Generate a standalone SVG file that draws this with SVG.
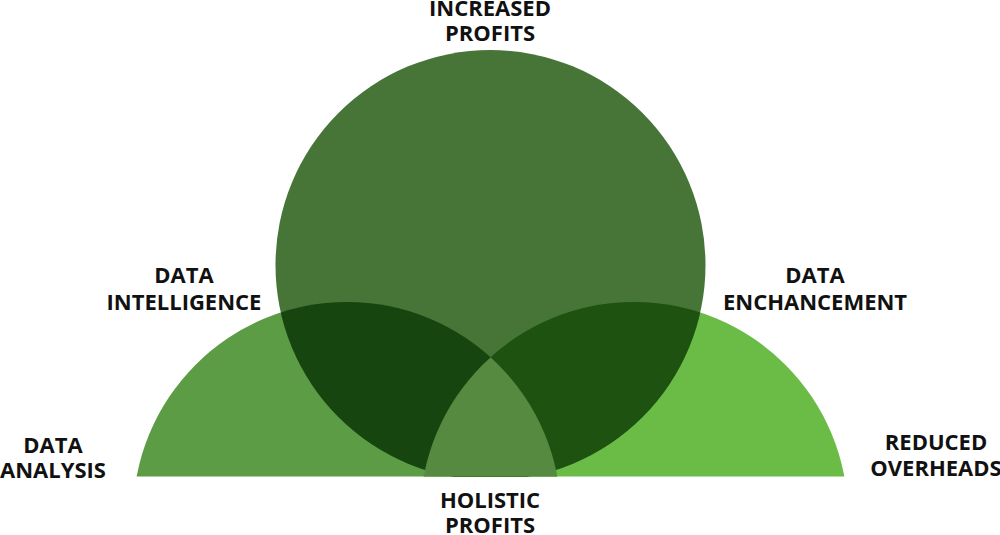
<svg xmlns="http://www.w3.org/2000/svg" width="1000" height="535" viewBox="0 0 1000 535">
<style>
.lbl{font-family:"Open Sans","Noto Sans","Liberation Sans",sans-serif;font-weight:700;font-size:22px;fill:#111;text-anchor:middle}
</style>
<defs>
<clipPath id="base"><rect x="0" y="0" width="1000" height="476.5"/></clipPath>
<clipPath id="cBig"><circle cx="490.5" cy="265" r="215"/></clipPath>
<clipPath id="cLeft"><circle cx="347" cy="516" r="214"/></clipPath>
<clipPath id="cRight"><circle cx="634" cy="516" r="214"/></clipPath>
</defs>
<g clip-path="url(#base)">
<g id="left-circle"><circle cx="347" cy="516" r="214" fill="#5b9c45"/></g>
<g id="right-circle"><circle cx="634" cy="516" r="214" fill="#6bbb47"/></g>
<g id="big-circle"><circle cx="490.5" cy="265" r="215" fill="#467537"/></g>
<g id="big-left" clip-path="url(#cBig)"><circle cx="347" cy="516" r="214" fill="#17450f"/></g>
<g id="big-right" clip-path="url(#cBig)"><circle cx="634" cy="516" r="214" fill="#1e5210"/></g>
<g id="holistic" clip-path="url(#cLeft)"><circle cx="634" cy="516" r="214" fill="#558a40"/></g>
</g>
<g id="connectors"></g>
<g id="labels">
<text class="lbl" x="490" y="16">INCREASED</text>
<text class="lbl" x="490" y="41">PROFITS</text>
<text class="lbl" x="184" y="283">DATA</text>
<text class="lbl" x="184" y="309.5">INTELLIGENCE</text>
<text class="lbl" x="815" y="283">DATA</text>
<text class="lbl" x="815" y="310">ENCHANCEMENT</text>
<text class="lbl" x="53" y="452.5">DATA</text>
<text class="lbl" x="53" y="478">ANALYSIS</text>
<text class="lbl" x="936" y="450">REDUCED</text>
<text class="lbl" x="936" y="476">OVERHEADS</text>
<text class="lbl" x="490" y="507.5">HOLISTIC</text>
<text class="lbl" x="490" y="532.5">PROFITS</text>
</g>
</svg>
